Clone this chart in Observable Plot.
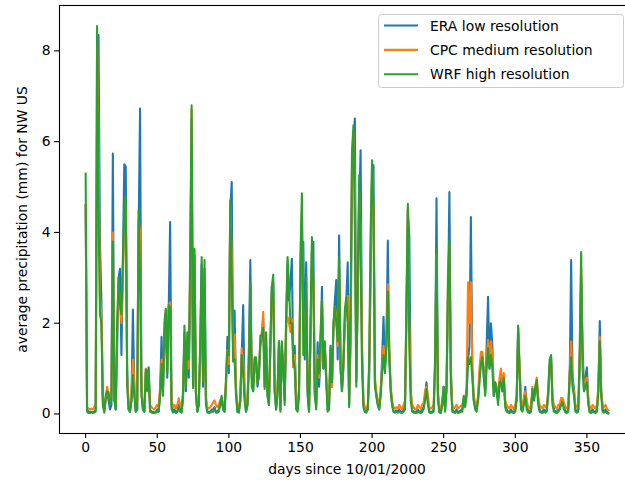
<!DOCTYPE html>
<html><head><meta charset="utf-8">
<script src="https://cdn.jsdelivr.net/npm/d3@7"></script>
<script src="https://cdn.jsdelivr.net/npm/@observablehq/plot@0.6"></script>
<style>
html,body{margin:0;padding:0;background:#fff;}
#wrap{width:625px;height:486px;overflow:hidden;position:relative;}
</style></head><body><div id="wrap"></div>
<script>
const seriesNames = ["ERA low resolution", "CPC medium resolution", "WRF high resolution"];
const seriesColors = ["#1f77b4", "#ff7f0e", "#2ca02c"];
const xLabel = "days since 10/01/2000";
const yLabel = "average precipitation (mm) for NW US";
const xTicks = [0, 50, 100, 150, 200, 250, 300, 350];
const yTicks = [0, 2, 4, 6, 8];

const era = [
4.6,0.1,0.05,0.05,0.05,0.04,0.05,0.1,6.5,8.35,
3.8,2.5,0.3,0.05,0.3,0.5,0.3,0.1,0.2,5.74,
0.3,0.1,1.5,3.0,3.2,1.3,3.4,5.5,5.45,1.0,
0.1,0.05,0.3,2.3,0.5,0.05,0.1,4.0,6.73,0.5,
0.1,0.05,0.9,0.8,1.03,0.1,0.05,0.05,0.03,0.05,
0.1,0.05,0.5,1.7,0.5,1.5,2.2,0.8,2.3,4.23,
0.2,0.05,0.1,0.05,0.05,0.2,0.1,0.05,0.3,1.6,
0.5,1.5,0.8,2.5,6.5,0.6,3.5,0.5,0.05,0.2,
1.5,3.3,0.6,3.2,0.3,0.05,0.05,0.05,0.1,0.1,
0.15,0.05,0.05,0.1,0.2,0.3,0.1,0.05,0.6,1.7,
0.9,4.5,5.11,1.2,2.28,0.5,0.05,0.05,0.3,1.3,
2.4,0.4,0.05,0.2,1.45,3.39,0.8,0.5,1.2,1.1,
0.6,0.9,1.5,1.7,2.1,0.6,1.5,0.4,0.2,1.5,
2.8,2.9,0.5,0.1,0.5,1.6,0.1,1.5,1.0,0.3,
1.8,3.3,2.5,2.9,3.42,1.03,1.5,0.3,0.1,0.5,
3.0,3.8,3.79,1.2,3.34,0.5,0.05,1.5,3.6,3.79,
0.5,0.2,1.58,0.6,1.2,2.8,1.0,1.5,0.8,0.1,
0.2,1.5,0.6,1.8,2.5,2.95,1.2,3.93,1.0,0.5,
1.0,2.0,2.5,3.34,0.2,1.5,5.0,6.0,6.51,0.8,
2.5,4.5,5.81,1.5,0.2,0.05,0.05,0.1,0.8,3.0,
5.3,5.48,0.7,0.4,0.2,0.1,0.5,1.2,2.14,1.0,
1.5,3.82,1.2,0.57,0.2,0.05,0.05,0.08,0.05,0.1,
0.05,0.05,0.1,0.2,2.0,4.5,3.93,0.5,0.1,0.05,
0.05,0.05,0.1,0.05,0.05,0.1,0.15,0.4,0.7,0.3,
0.05,0.05,0.05,0.1,1.0,4.75,0.5,0.05,0.05,0.2,
0.6,0.1,0.5,2.5,4.89,1.0,0.1,0.05,0.05,0.1,
0.05,0.05,0.08,0.1,0.3,0.2,0.4,1.2,1.5,4.34,
1.0,0.3,0.15,0.1,0.3,0.8,1.2,1.3,0.8,0.5,
1.5,2.58,1.0,2.0,1.5,0.4,0.6,0.5,0.3,0.6,
0.9,0.5,0.7,0.2,0.1,0.05,0.05,0.1,0.05,0.05,
0.1,0.3,1.9,1.0,0.2,0.1,0.3,0.6,0.2,0.05,
0.05,0.1,0.5,0.3,0.5,0.7,0.3,0.1,0.05,0.05,
0.1,0.05,0.1,0.4,1.0,1.26,0.3,0.1,0.05,0.05,
0.1,0.1,0.3,0.3,0.15,0.05,0.05,0.1,0.8,3.39,
0.8,0.55,0.1,0.05,0.1,1.0,3.0,1.5,0.5,0.8,
1.03,0.3,0.05,0.05,0.1,0.05,0.05,0.1,0.5,2.05,
0.5,0.1,0.05,0.1,0.05,0.02
];

const cpc = [
4.6,0.15,0.12,0.1,0.12,0.1,0.15,0.2,8.3,6.0,
2.6,2.2,0.4,0.1,0.35,0.6,0.4,0.3,0.5,4.0,
0.4,0.2,1.8,2.8,2.5,2.0,3.0,4.0,4.5,0.8,
0.2,0.15,0.4,1.2,0.7,0.2,0.3,4.3,4.0,0.5,
0.15,0.1,1.0,0.6,0.9,0.2,0.15,0.12,0.1,0.15,
0.2,0.15,0.6,1.2,0.6,1.8,2.3,1.0,2.4,2.46,
0.3,0.15,0.2,0.12,0.2,0.35,0.2,0.15,0.4,1.8,
0.6,1.7,1.0,3.0,6.7,0.6,3.4,0.5,0.15,0.3,
1.2,2.5,0.8,1.92,0.4,0.15,0.12,0.15,0.2,0.25,
0.3,0.2,0.15,0.2,0.3,0.35,0.2,0.15,0.7,1.4,
1.1,4.6,3.5,1.4,1.75,0.6,0.15,0.1,0.4,1.45,
1.2,0.5,0.15,0.3,1.2,2.5,0.9,0.6,1.1,1.2,
0.7,1.0,1.6,1.8,2.25,0.7,1.7,0.5,0.3,1.4,
2.6,2.7,0.6,0.2,0.6,1.5,0.2,1.4,1.1,0.4,
2.0,2.14,2.0,1.8,2.1,1.03,1.3,0.3,0.2,0.6,
3.3,4.5,2.0,1.3,2.5,0.6,0.15,1.8,3.5,3.0,
0.6,0.3,1.3,0.8,1.5,2.5,1.2,1.45,0.9,0.2,
0.3,1.3,0.6,1.9,2.35,2.2,1.5,3.2,1.2,0.6,
1.1,2.1,2.4,2.6,0.3,2.0,5.5,6.2,5.0,0.7,
2.8,4.9,4.0,1.3,0.3,0.15,0.1,0.2,1.0,3.5,
5.4,4.5,0.8,0.5,0.3,0.2,0.5,1.0,1.5,1.1,
1.6,2.86,1.5,0.6,0.3,0.15,0.12,0.15,0.12,0.2,
0.15,0.1,0.2,0.3,2.2,4.55,2.0,0.5,0.2,0.15,
0.1,0.12,0.2,0.15,0.12,0.2,0.25,0.5,0.6,0.4,
0.15,0.12,0.15,0.2,1.1,3.5,0.4,0.15,0.12,0.3,
0.55,0.2,0.6,2.8,3.7,0.9,0.2,0.12,0.15,0.2,
0.12,0.15,0.18,0.2,0.35,0.3,0.6,2.9,2.0,2.9,
1.0,0.4,0.25,0.2,0.4,1.0,1.37,1.37,1.0,0.6,
1.2,1.63,1.1,1.6,1.3,0.5,0.7,0.6,0.4,0.8,
1.0,0.6,0.9,0.3,0.2,0.15,0.12,0.2,0.15,0.1,
0.2,0.4,1.8,1.1,0.3,0.2,0.35,0.5,0.3,0.15,
0.12,0.2,0.6,0.4,0.6,0.8,0.4,0.2,0.15,0.12,
0.2,0.15,0.2,0.5,1.1,1.2,0.4,0.2,0.15,0.12,
0.2,0.2,0.35,0.35,0.25,0.15,0.12,0.2,0.9,1.6,
0.7,0.5,0.2,0.15,0.2,1.2,3.2,1.2,0.6,0.7,
0.8,0.35,0.15,0.12,0.2,0.15,0.12,0.2,0.6,1.7,
0.5,0.2,0.15,0.2,0.12,0.08
];

const wrf = [
5.3,0.05,0.02,0.02,0.03,0.02,0.03,0.05,8.55,4.5,
2.2,2.0,0.2,0.03,0.4,0.5,0.48,0.2,0.3,3.8,
0.4,0.1,2.0,3.0,2.4,2.2,3.3,4.5,4.8,0.6,
0.1,0.05,0.3,0.86,0.4,0.05,0.1,4.49,3.0,0.4,
0.1,0.05,0.98,0.5,0.95,0.05,0.03,0.02,0.02,0.03,
0.05,0.05,0.4,1.1,0.4,2.0,2.32,0.9,2.4,2.35,
0.1,0.03,0.05,0.02,0.05,0.15,0.05,0.03,0.5,1.95,
0.6,1.8,1.2,3.5,6.8,0.57,3.64,0.4,0.05,0.2,
1.5,3.46,0.7,3.39,0.2,0.03,0.02,0.03,0.05,0.05,
0.1,0.03,0.03,0.05,0.25,0.4,0.1,0.05,0.8,1.37,
1.3,4.71,3.0,1.15,1.2,0.4,0.05,0.03,0.3,1.3,
0.9,0.3,0.05,0.2,1.0,2.91,0.6,0.5,1.25,1.25,
0.7,0.8,1.73,1.73,1.9,0.55,1.8,0.4,0.2,1.6,
2.8,3.07,0.5,0.1,0.4,1.6,0.05,1.6,1.0,0.2,
2.2,3.46,2.8,2.0,2.0,1.2,1.0,0.1,0.05,0.4,
3.5,4.86,1.3,1.3,3.0,0.4,0.05,2.0,3.9,2.8,
0.4,0.1,1.2,0.9,1.8,2.5,1.0,1.6,0.7,0.05,
0.1,1.45,0.7,2.0,2.35,2.0,1.6,3.46,1.0,0.5,
1.2,2.3,2.57,2.0,0.15,2.5,5.8,6.36,4.0,0.6,
3.0,5.26,3.5,1.0,0.15,0.05,0.03,0.1,1.2,4.0,
5.59,4.5,0.6,0.4,0.2,0.1,0.4,0.9,1.3,0.9,
1.5,2.7,1.4,0.5,0.2,0.05,0.03,0.05,0.03,0.05,
0.03,0.02,0.05,0.1,2.5,4.63,1.5,0.3,0.05,0.03,
0.02,0.02,0.05,0.03,0.02,0.05,0.1,0.3,0.55,0.2,
0.03,0.02,0.03,0.05,1.2,3.64,0.3,0.03,0.02,0.2,
0.6,0.05,0.6,3.0,3.82,0.7,0.05,0.03,0.02,0.05,
0.02,0.03,0.05,0.05,0.4,0.15,0.5,1.25,1.1,1.25,
0.8,0.3,0.1,0.05,0.3,0.7,1.1,1.25,0.9,0.4,
1.0,1.45,1.0,1.3,1.0,0.4,0.7,0.5,0.2,0.7,
0.7,0.5,0.8,0.15,0.05,0.03,0.02,0.05,0.03,0.02,
0.05,0.4,1.95,0.9,0.1,0.05,0.2,0.4,0.1,0.03,
0.02,0.05,0.55,0.3,0.6,0.75,0.2,0.05,0.03,0.02,
0.05,0.03,0.05,0.5,1.2,1.3,0.2,0.05,0.03,0.02,
0.05,0.1,0.2,0.25,0.1,0.03,0.02,0.05,0.9,1.25,
0.6,0.4,0.05,0.03,0.05,1.5,3.57,1.0,0.5,0.6,
0.7,0.2,0.03,0.02,0.05,0.03,0.02,0.05,0.5,1.6,
0.4,0.05,0.03,0.05,0.02,0.01
];

const seriesValues = [era, cpc, wrf];
const rows = [];
seriesValues.forEach((arr, s) => arr.forEach((v, i) => rows.push({day: i, value: v, series: seriesNames[s]})));

const FONT = "'DejaVu Sans', sans-serif";
const FS = 13.9;

const chart = Plot.plot({
  width: 634,
  height: 486,
  marginLeft: 59,
  marginRight: 0,
  marginTop: 5,
  marginBottom: 53,
  style: {fontFamily: FONT, fontSize: FS + "px", color: "#000", background: "#fff", maxWidth: "none"},
  x: {domain: [-18.25, 383.25]},
  y: {domain: [-0.43, 9.0]},
  color: {domain: seriesNames, range: seriesColors},
  marks: [
    Plot.line(rows, {x: "day", y: "value", z: "series", stroke: "series", strokeWidth: 2.08, strokeLinejoin: "round", strokeLinecap: "square"}),
    Plot.frame({stroke: "#000", strokeWidth: 1.1}),
    Plot.axisX({ticks: xTicks, tickSize: 4.9, tickPadding: 4, label: null, tickFormat: d => String(d), strokeWidth: 1.1}),
    Plot.axisY({ticks: yTicks, tickSize: 4.9, tickPadding: 4, label: null, tickFormat: d => String(d), strokeWidth: 1.1}),
    Plot.text([xLabel], {frameAnchor: "bottom", dy: 40, text: d => d, fontSize: FS, fill: "#000", textAnchor: "middle"}),
    Plot.text([yLabel], {frameAnchor: "left", dx: -37, rotate: -90, text: d => d, fontSize: FS, fill: "#000", textAnchor: "middle"})
  ]
});

// legend inside the axes (upper right), as in the original
const svg = d3.select(chart);
const lg = svg.append("g").attr("font-family", FONT).attr("font-size", FS).attr("text-anchor", "start");
lg.append("rect")
  .attr("x", 378.5).attr("y", 14.5).attr("width", 245).attr("height", 73)
  .attr("rx", 3).attr("fill", "#fff").attr("fill-opacity", 0.8)
  .attr("stroke", "#cccccc").attr("stroke-width", 1);
seriesNames.forEach((name, i) => {
  const yRow = 25.5 + i * 24.4;
  lg.append("line").attr("x1", 384).attr("x2", 418).attr("y1", yRow).attr("y2", yRow)
    .attr("stroke", seriesColors[i]).attr("stroke-width", 2.08);
  lg.append("text").attr("x", 430).attr("y", yRow + 5).attr("fill", "#000").attr("text-anchor", "start").text(name);
});

document.getElementById("wrap").appendChild(chart);
</script>
</body></html>
